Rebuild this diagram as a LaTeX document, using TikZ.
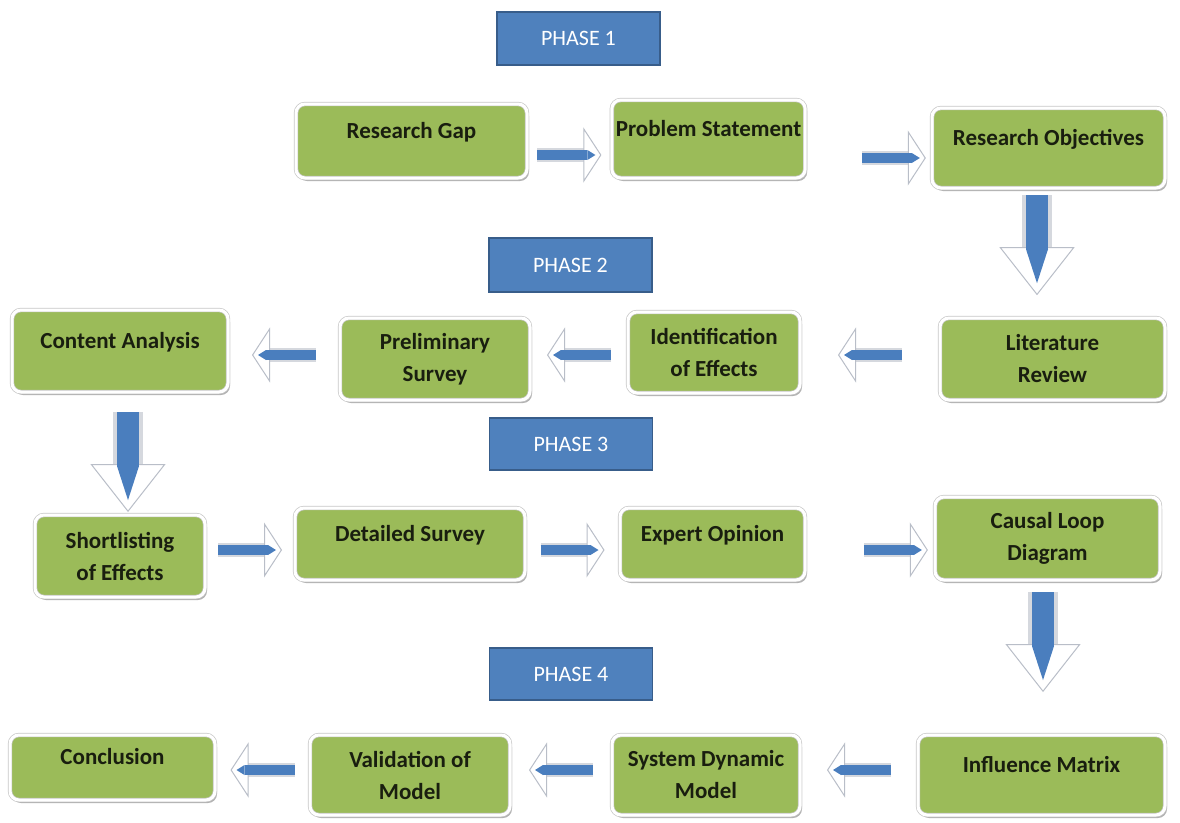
\documentclass[tikz,border=0pt]{standalone}
\usepackage{fontspec}
\setmainfont{Carlito}
\usepackage{tikz}
\usetikzlibrary{arrows.meta,calc,shadows}
\definecolor{stepgreen}{RGB}{155,187,89}
\definecolor{phaseblue}{RGB}{79,129,189}
\definecolor{phaseedge}{RGB}{56,93,138}
\definecolor{arrowblue}{RGB}{74,126,190}
\definecolor{arrowedge}{RGB}{185,190,200}
\definecolor{darktext}{RGB}{25,30,15}
\tikzset{
  base/.style={align=center, inner sep=4pt, text=darktext, font=\bfseries\fontsize{23}{32}\selectfont},
  box/.style={base, rectangle, rounded corners=9pt, fill=stepgreen, draw=black!22, double=white, double distance=3pt, line width=0.7pt, drop shadow={shadow xshift=2pt, shadow yshift=-3pt, opacity=0.3, fill=black}},
  oneline/.style={text height=16pt, text depth=22pt},
  phase/.style={rectangle, fill=phaseblue, draw=phaseedge, line width=1.2pt, text=white, font=\fontsize{22}{26}\selectfont, minimum width=163pt},
  harrback/.style={line width=14pt, draw=arrowedge!60, -{Triangle[length=18pt,width=55pt,fill=white,color=arrowedge,line width=1pt]}},
  harrfront/.style={line width=10pt, draw=arrowblue, -{Triangle[length=8pt,width=10pt,fill=arrowblue,color=arrowblue,line width=0pt]}, shorten >=6pt},
  varrback/.style={line width=30pt, draw=arrowedge!60, -{Triangle[length=48pt,width=75pt,fill=white,color=arrowedge,line width=1pt]}},
  varrfront/.style={line width=22pt, draw=arrowblue, -{Triangle[length=34pt,width=22pt,fill=arrowblue,color=arrowblue,line width=0pt]}, shorten >=12pt},
}
\begin{document}
\begin{tikzpicture}[x=1pt,y=-1pt]
  \useasboundingbox (0,0) rectangle (1180,822);
  % phase tags
  \node[phase,minimum height=53pt] (ph1) at (578.5,38.5) {PHASE 1};
  \node[phase,minimum height=54pt] (ph2) at (570.5,265) {PHASE 2};
  \node[phase,minimum height=52pt] (ph3) at (571,444) {PHASE 3};
  \node[phase,minimum height=52pt] (ph4) at (571,674) {PHASE 4};
  % phase 1 row
  \node[box,oneline,minimum width=231pt,minimum height=74pt] (rg) at (411.5,141) {Research Gap};
  \node[box,oneline,minimum width=183pt,minimum height=78pt] (ps) at (708.5,139) {Problem Statement};
  \node[box,oneline,minimum width=233pt,minimum height=80pt] (ro) at (1048.5,148) {Research Objectives};
  % phase 2 row
  \node[box,oneline,minimum width=216pt,minimum height=82pt] (ca) at (120,351) {Content Analysis};
  \node[box,minimum width=190pt,minimum height=82pt] (pre) at (435,359) {Preliminary\\Survey};
  \node[box,minimum width=172pt,minimum height=81pt] (ie) at (714,352.5) {Identification\\of Effects};
  \node[box,minimum width=225pt,minimum height=82pt] (lr) at (1052.5,359) {Literature\\Review};
  % phase 3 row
  \node[box,minimum width=170pt,minimum height=82pt] (sh) at (120,556) {Shortlisting\\of Effects};
  \node[box,oneline,minimum width=230pt,minimum height=72pt] (ds) at (410,544) {Detailed Survey};
  \node[box,oneline,minimum width=185pt,minimum height=72pt] (eo) at (712.5,544) {Expert Opinion};
  \node[box,minimum width=225pt,minimum height=83pt] (cld) at (1047.5,538.5) {Causal Loop\\Diagram};
  % phase 4 row
  \node[box,oneline,minimum width=205pt,minimum height=65pt] (con) at (112.5,767.5) {Conclusion};
  \node[box,minimum width=200pt,minimum height=80pt] (vm) at (410,775) {Validation of\\Model};
  \node[box,minimum width=188pt,minimum height=80pt] (sdm) at (706,775) {System Dynamic\\Model};
  \node[box,oneline,minimum width=247pt,minimum height=80pt] (im) at (1041.5,775) {Influence Matrix};
  % block arrows along the rows
  \foreach \a/\b/\y/\f in {rg.east/ps.west/155/.5, ps.east/ro.west/158/.7,
      lr.west/ie.east/355/.5, ie.west/pre.east/355/.5, pre.west/ca.east/355/.5,
      sh.east/ds.west/550/.5, ds.east/eo.west/550/.5, eo.east/cld.west/550/.7,
      im.west/sdm.east/770/.5, sdm.west/vm.east/770/.5, vm.west/con.east/770/.5}{
    \coordinate (s) at (\a |- 0,\y);
    \coordinate (t) at (\b |- 0,\y);
    \coordinate (m) at ($(s)!\f!(t)$);
    \draw[harrback] ($(m)!32pt!(s)$) -- ($(m)!32pt!(t)$);
    \draw[harrfront] ($(m)!32pt!(s)$) -- ($(m)!32pt!(t)$);
  }
  % block arrows between the rows
  \foreach \a/\b/\x/\f in {ro.south/lr.north/1037/.44, ca.south/sh.north/128/.57, cld.south/im.north/1043/.40}{
    \coordinate (s) at (\x,0 |- \a);
    \coordinate (t) at (\x,0 |- \b);
    \coordinate (m) at ($(s)!\f!(t)$);
    \draw[varrback] ($(m)!50pt!(s)$) -- ($(m)!50pt!(t)$);
    \draw[varrfront] ($(m)!50pt!(s)$) -- ($(m)!50pt!(t)$);
  }
\end{tikzpicture}
\end{document}
